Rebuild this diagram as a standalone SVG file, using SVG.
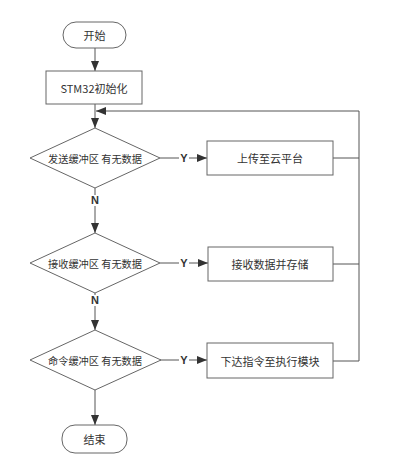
<svg xmlns="http://www.w3.org/2000/svg" width="416" height="467" viewBox="0 0 416 467">
<defs>
<style>
.shape{fill:#fff;stroke:#666;stroke-width:1}
.line{fill:none;stroke:#555;stroke-width:1}
.t{font-family:"Noto Sans CJK SC","Liberation Sans",sans-serif;font-size:11px;fill:#333;text-anchor:middle;dominant-baseline:central}
.td{font-size:10.2px}
.lbl{font-family:"Liberation Sans",Arial,sans-serif;font-size:11px;font-weight:bold;fill:#333;text-anchor:middle;dominant-baseline:central}
</style>
<marker id="arr" viewBox="0 0 10 8" refX="10" refY="4" markerWidth="10" markerHeight="8" markerUnits="userSpaceOnUse" orient="auto">
<path d="M0,0 L10,4 L0,8 z" fill="#333"/>
</marker>
</defs>
<rect width="416" height="467" fill="#fff"/>
<g id="connectors">
<line class="line" x1="95" y1="48" x2="95" y2="71" marker-end="url(#arr)"/>
<line class="line" x1="95" y1="104" x2="95" y2="128" marker-end="url(#arr)"/>
<line class="line" x1="95" y1="188" x2="95" y2="195"/>
<line class="line" x1="95" y1="206" x2="95" y2="233" marker-end="url(#arr)"/>
<line class="line" x1="95" y1="293" x2="95" y2="295"/>
<line class="line" x1="95" y1="306" x2="95" y2="330" marker-end="url(#arr)"/>
<line class="line" x1="95" y1="390" x2="95" y2="425" marker-end="url(#arr)"/>
<line class="line" x1="160" y1="158" x2="179" y2="158"/>
<line class="line" x1="189" y1="158" x2="207" y2="158" marker-end="url(#arr)"/>
<line class="line" x1="160" y1="263" x2="179" y2="263"/>
<line class="line" x1="189" y1="263" x2="208" y2="263" marker-end="url(#arr)"/>
<line class="line" x1="160" y1="360" x2="179" y2="360"/>
<line class="line" x1="189" y1="360" x2="207" y2="360" marker-end="url(#arr)"/>
<polyline class="line" points="333,158 359,158"/>
<polyline class="line" points="333,264 359,264"/>
<polyline class="line" points="333,361 359,361 359,111 96,111" marker-end="url(#arr)"/>
<text class="lbl" x="184" y="158">Y</text>
<text class="lbl" x="184" y="263">Y</text>
<text class="lbl" x="184" y="360">Y</text>
<text class="lbl" x="95" y="200">N</text>
<text class="lbl" x="95" y="300">N</text>
</g>
<g id="start">
<rect class="shape" x="63" y="22" width="63" height="26" rx="13"/>
<text class="t" x="94.5" y="35">开始</text>
</g>
<g id="init">
<rect class="shape" x="46" y="71" width="96" height="33"/>
<text class="t" x="94" y="87.5">STM32初始化</text>
</g>
<g id="d1">
<polygon class="shape" points="95,128 160,158 95,188 30,158"/>
<text class="t td" x="95" y="158">发送缓冲区 有无数据</text>
</g>
<g id="b1">
<rect class="shape" x="207" y="141" width="126" height="34"/>
<text class="t" x="270" y="158">上传至云平台</text>
</g>
<g id="d2">
<polygon class="shape" points="95,233 160,263 95,293 30,263"/>
<text class="t td" x="95" y="263">接收缓冲区 有无数据</text>
</g>
<g id="b2">
<rect class="shape" x="208" y="247" width="125" height="34"/>
<text class="t" x="270" y="264">接收数据并存储</text>
</g>
<g id="d3">
<polygon class="shape" points="95,330 161,360 95,390 30,360"/>
<text class="t td" x="95" y="360">命令缓冲区 有无数据</text>
</g>
<g id="b3">
<rect class="shape" x="207" y="343" width="126" height="35"/>
<text class="t" x="270" y="360.5">下达指令至执行模块</text>
</g>
<g id="end">
<rect class="shape" x="62" y="425" width="65" height="28" rx="13"/>
<text class="t" x="94.5" y="439">结束</text>
</g>
</svg>
